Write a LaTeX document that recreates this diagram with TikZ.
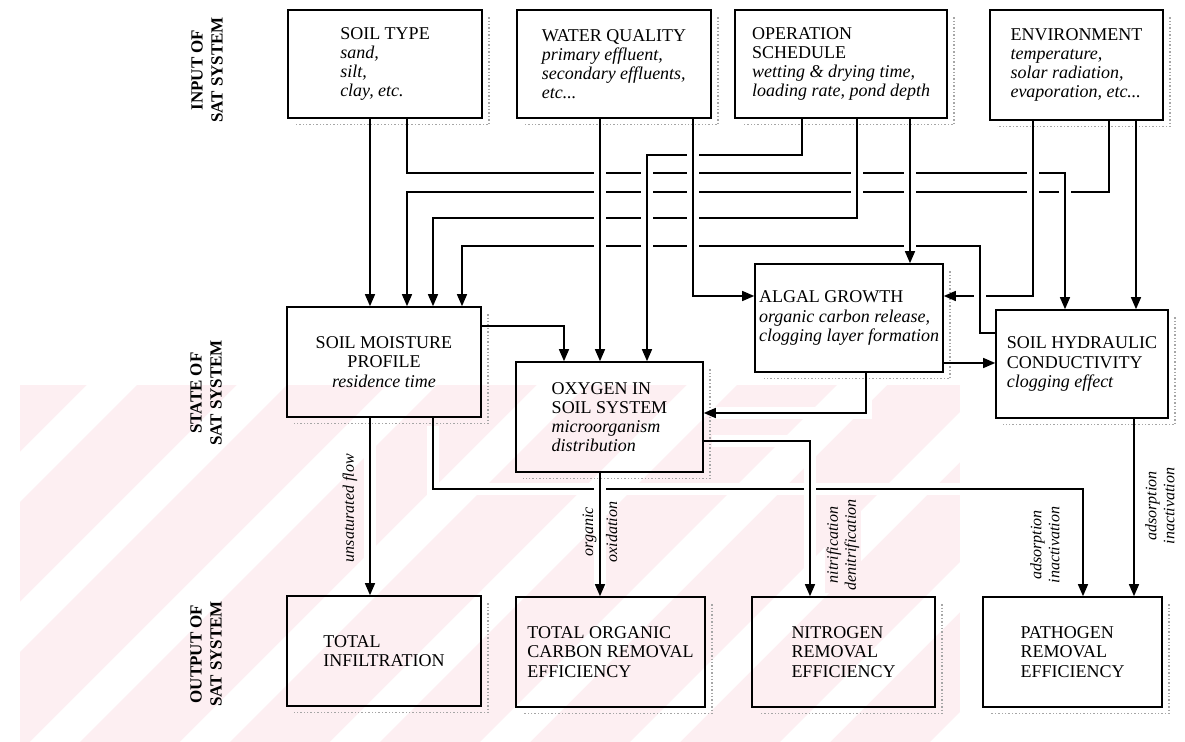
\documentclass[tikz,border=0pt]{standalone}
\usepackage{fontspec}
\setmainfont{Liberation Serif}
\usetikzlibrary{arrows.meta}
\definecolor{wmpink}{RGB}{253,239,242}

\begin{document}
\begin{tikzpicture}[x=0.5pt, y=-0.5pt,
    box/.style={draw, line width=0.8pt, align=left, inner xsep=1pt,
      font=\fontsize{9}{9.6}\selectfont},
    rowlabel/.style={rotate=90, align=center, font=\fontsize{8.5}{10}\selectfont\bfseries},
    flow/.style={line width=0.7pt, -{Triangle[length=6pt,width=5pt]},
      preaction={draw=white, line width=6pt, -, shorten <=4pt, shorten >=4pt}},
    lbl/.style={rotate=90, align=center, inner sep=1pt,
      font=\fontsize{8}{9}\selectfont\itshape}]
  \useasboundingbox (0,0) rectangle (1185,742);

  % faint watermark behind the lower half
  \begin{scope}
    \clip (20,385) rectangle (960,742);
    \fill[wmpink] (20,385) rectangle (960,742);
    \foreach \i in {0,...,9}
      \fill[white] ({\i*150-420},742) -- ++(50,0) -- ++(420,-420) -- ++(-50,0) -- cycle;
  \end{scope}

  % row labels
  \node[rowlabel] (inp) at (207,70) {INPUT OF\\SAT SYSTEM};
  \node[rowlabel] (sta) at (206,393) {STATE OF\\SAT SYSTEM};
  \node[rowlabel] (outp) at (206,654) {OUTPUT OF\\SAT SYSTEM};

  % input of the system
  \node[box, minimum width=97pt, minimum height=54pt] (soil) at (385,64)
    {SOIL TYPE\\\textit{sand,}\\\textit{silt,}\\\textit{clay, etc.}};
  \node[box, minimum width=97pt, minimum height=54pt] (water) at (614,64)
    {WATER QUALITY\\\textit{primary effluent,}\\\textit{secondary effluents,}\\\textit{etc...}};
  \node[box, minimum width=106pt, minimum height=54pt] (oper) at (841,64)
    {OPERATION\\SCHEDULE\\\textit{wetting \& drying time,}\\\textit{loading rate, pond depth}};
  \node[box, minimum width=86.5pt, minimum height=55pt] (env) at (1076.5,65)
    {ENVIRONMENT\\\textit{temperature,}\\\textit{solar radiation,}\\\textit{evaporation, etc...}};

  % state of the system
  \node[box, align=center, minimum width=97pt, minimum height=55pt] (sm) at (384,362)
    {SOIL MOISTURE\\PROFILE\\\textit{residence time}};
  \node[box, minimum width=93.5pt, minimum height=55pt] (oxy) at (609.5,417)
    {OXYGEN IN\\SOIL SYSTEM\\\textit{microorganism}\\\textit{distribution}};
  \node[box, minimum width=94pt, minimum height=54pt] (algal) at (849,318)
    {ALGAL GROWTH\\\textit{organic carbon release,}\\\textit{clogging layer formation}};
  \node[box, minimum width=86pt, minimum height=54pt] (shc) at (1082,364)
    {SOIL HYDRAULIC\\CONDUCTIVITY\\\textit{clogging effect}};

  % output of the system
  \node[box, minimum width=97pt, minimum height=55pt] (ti) at (384,651)
    {TOTAL\\INFILTRATION};
  \node[box, minimum width=94.5pt, minimum height=55pt] (toc) at (610.5,652)
    {TOTAL ORGANIC\\CARBON REMOVAL\\EFFICIENCY};
  \node[box, minimum width=91.5pt, minimum height=55pt] (nit) at (843.5,652)
    {NITROGEN\\REMOVAL\\EFFICIENCY};
  \node[box, minimum width=89.5pt, minimum height=55pt] (pathogen) at (1072.5,652)
    {PATHOGEN\\REMOVAL\\EFFICIENCY};

  % dotted shadow of the boxes
  \foreach \n in {soil,water,oper,env,sm,oxy,algal,shc,ti,toc,nit,pathogen}
    \draw[black!35, densely dotted, line width=0.7pt]
      ([xshift=3pt,yshift=-4pt]\n.north east) |- ([xshift=4pt,yshift=-3pt]\n.south west);

  % inputs -> state
  \draw[flow] (1109,0 |- env.south) -- (1109,192) -- (407,192) -- (407,0 |- sm.north);
  \draw[flow] (407,0 |- soil.south) -- (407,173) -- (1065,173) -- (1065,0 |- shc.north);
  \draw[flow] (857,0 |- oper.south) -- (857,218) -- (433,218) -- (433,0 |- sm.north);
  \draw[flow] (1033,0 |- env.south) -- (1033,296) -- (algal.east |- 0,296);
  \draw[flow] (shc.west |- 0,333) -- (980,333) -- (980,246) -- (462,246) -- (462,0 |- sm.north);
  \draw[flow] (910,0 |- oper.south) -- (910,0 |- algal.north);
  \draw[flow] (802,0 |- oper.south) -- (802,155) -- (647,155) -- (647,0 |- oxy.north);
  \draw[flow] (600,0 |- water.south) -- (600,0 |- oxy.north);
  \draw[flow] (693,0 |- water.south) -- (693,296) -- (algal.west |- 0,296);
  \draw[flow] (1136,0 |- env.south) -- (1136,0 |- shc.north);
  \draw[flow] (370,0 |- soil.south) -- (370,0 |- sm.north);

  % state -> state
  \draw[flow] (sm.east |- 0,326) -- (564,326) -- (564,0 |- oxy.north);
  \draw[flow] (866,0 |- algal.south) -- (866,413) -- (oxy.east |- 0,413);
  \draw[flow] (algal.east |- 0,363) -- (shc.west |- 0,363);

  % state -> output
  \draw[flow] (433,0 |- sm.south) -- (433,489) -- (1083,489) -- (1083,0 |- pathogen.north);
  \draw[flow] (370,0 |- sm.south) -- (370,0 |- ti.north);
  \draw[flow] (600,0 |- oxy.south) -- (600,0 |- toc.north);
  \draw[flow] (oxy.east |- 0,441) -- (810,441) -- (810,0 |- nit.north);
  \draw[flow] (1134,0 |- shc.south) -- (1134,0 |- pathogen.north);

  % process labels
  \node[lbl] (unsat) at (350,508) {unsaturated flow};
  \node[lbl] (oxid) at (600,532) {organic\\[3pt]oxidation};
  \node[lbl, fill=wmpink] (nitr) at (843,545) {nitrification\\denitrification};
  \node[lbl] (adsa) at (1045,545) {adsorption\\inactivation};
  \node[lbl] (adsb) at (1160,506) {adsorption\\inactivation};
\end{tikzpicture}
\end{document}
